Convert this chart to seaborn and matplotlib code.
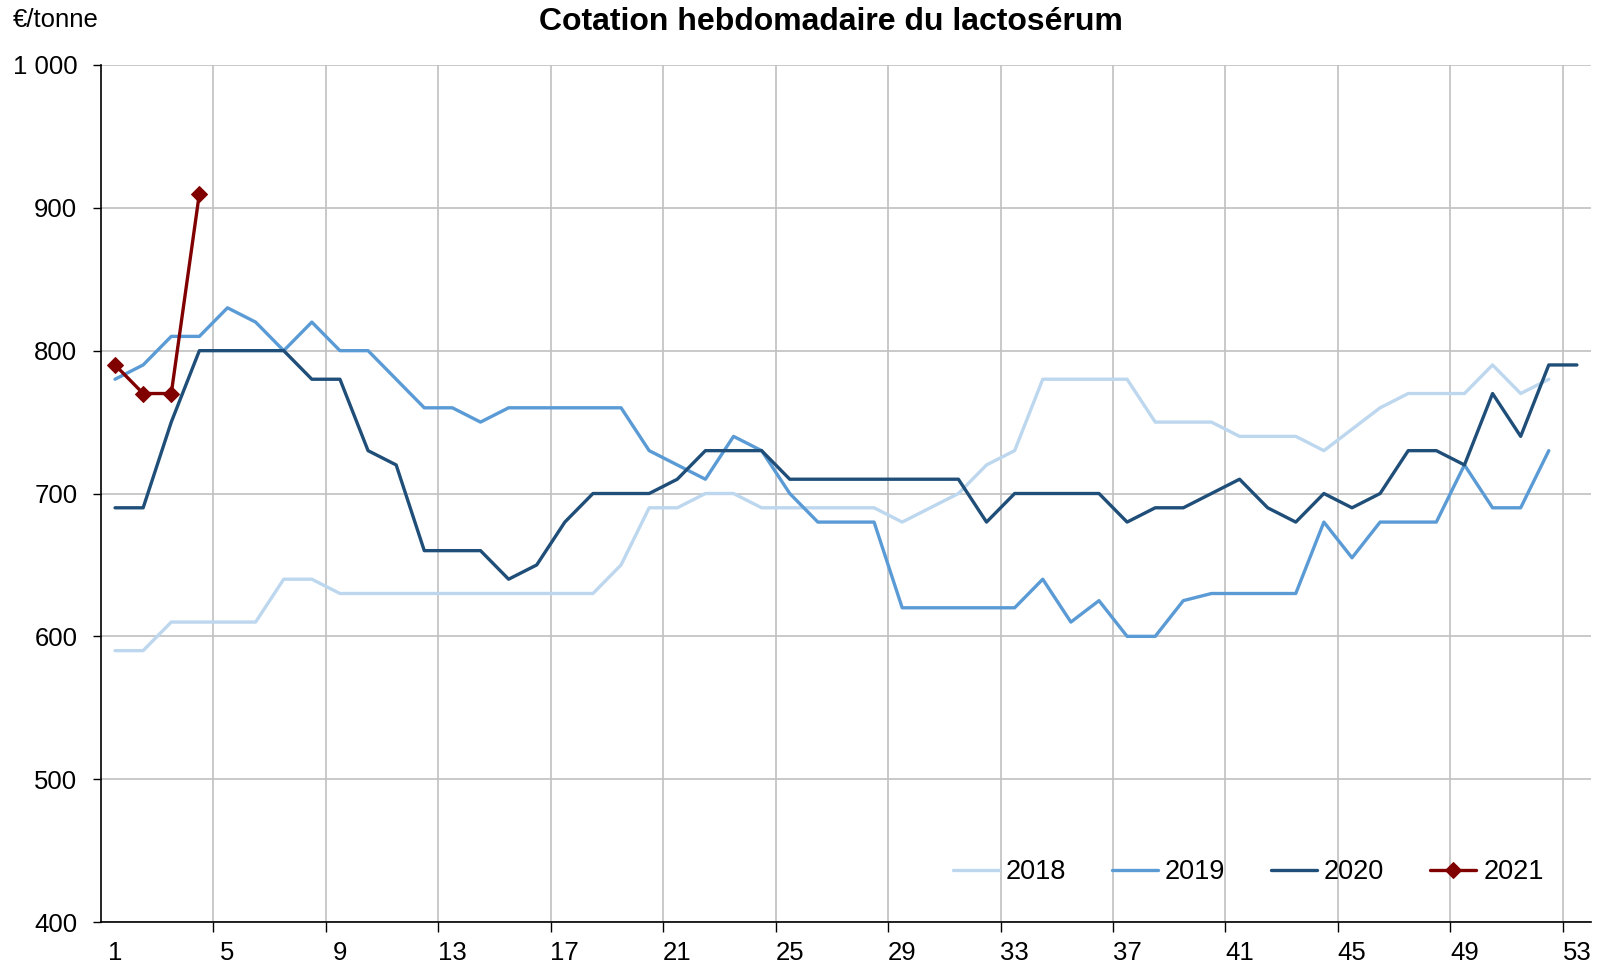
import numpy as np
import pandas as pd
import matplotlib.pyplot as plt
import seaborn as sns
from matplotlib.ticker import FixedLocator

# Cotation hebdomadaire du lactosérum (€/tonne), par semaine
weeks_2018 = list(range(1, 53))
val_2018 = [590, 590, 610, 610, 610, 610, 640, 640, 630, 630, 630, 630, 630, 630, 630, 630, 630, 630,
            650, 690, 690, 700, 700, 690, 690, 690, 690, 690, 680, 690, 700, 720, 730, 780, 780, 780,
            780, 750, 750, 750, 740, 740, 740, 730, 745, 760, 770, 770, 770, 790, 770, 780]

weeks_2019 = list(range(1, 53))
val_2019 = [780, 790, 810, 810, 830, 820, 800, 820, 800, 800, 780, 760, 760, 750, 760, 760, 760, 760,
            760, 730, 720, 710, 740, 730, 700, 680, 680, 680, 620, 620, 620, 620, 620, 640, 610, 625,
            600, 600, 625, 630, 630, 630, 630, 680, 655, 680, 680, 680, 720, 690, 690, 730]

weeks_2020 = list(range(1, 54))
val_2020 = [690, 690, 750, 800, 800, 800, 800, 780, 780, 730, 720, 660, 660, 660, 640, 650, 680, 700,
            700, 700, 710, 730, 730, 730, 710, 710, 710, 710, 710, 710, 710, 680, 700, 700, 700, 700,
            680, 690, 690, 700, 710, 690, 680, 700, 690, 700, 730, 730, 720, 770, 740, 790, 790]

weeks_2021 = [1, 2, 3, 4]
val_2021 = [790, 770, 770, 910]

years = ["2018", "2019", "2020", "2021"]
colors = ["#BDD7EE", "#5B9BD5", "#1F4E79", "#800000"]
series = [(weeks_2018, val_2018), (weeks_2019, val_2019), (weeks_2020, val_2020), (weeks_2021, val_2021)]

x_labels = list(range(1, 54, 4))
y_ticks = [400, 500, 600, 700, 800, 900, 1000]
y_labels = ["400", "500", "600", "700", "800", "900", "1 000"]

sns.set_style("white")
plt.rcParams["font.family"] = ["Liberation Sans", "DejaVu Sans"]
plt.rcParams["text.color"] = "black"
plt.rcParams["xtick.color"] = "black"
plt.rcParams["ytick.color"] = "black"

fig = plt.figure(figsize=(16.08, 9.67), dpi=100)
ax = fig.add_axes([0.0628, 0.0465, 0.9266, 0.8863])

for (wk, vals), yr, col in zip(series, years, colors):
    df = pd.DataFrame({"semaine": wk, "valeur": vals})
    if yr == "2021":
        sns.lineplot(data=df, x="semaine", y="valeur", ax=ax, color=col, lw=2.4,
                     marker="D", markersize=8, markeredgecolor=col, label=yr)
    else:
        sns.lineplot(data=df, x="semaine", y="valeur", ax=ax, color=col, lw=2.4, label=yr)

ax.set_xlim(0.5, 53.5)
ax.set_ylim(400, 1000)

ax.xaxis.set_major_locator(FixedLocator(x_labels))
ax.xaxis.set_minor_locator(FixedLocator(np.arange(4.5, 53, 4)))
ax.set_xticklabels([str(v) for v in x_labels])
ax.set_yticks(y_ticks)
ax.set_yticklabels(y_labels)
ax.tick_params(axis="x", which="major", length=0, labelsize=18.5, pad=14)
ax.tick_params(axis="x", which="minor", length=7, width=1, color="black", direction="out", bottom=True)
ax.tick_params(axis="y", length=6, width=1, color="black", direction="out", left=True,
               labelsize=18.5, pad=11)

ax.grid(False)
ax.xaxis.grid(True, which="minor", color="#C0C0C0", lw=1.2)
ax.yaxis.grid(True, which="major", color="#C0C0C0", lw=1.2)
ax.set_axisbelow(True)

for s in ["top", "right"]:
    ax.spines[s].set_visible(False)
for s in ["left", "bottom"]:
    ax.spines[s].set_color("black")
    ax.spines[s].set_linewidth(1.2)

ax.set_xlabel("")
ax.set_ylabel("")

ax.legend(loc="center", bbox_to_anchor=(0.77, 0.058), ncol=4, frameon=False, fontsize=19.5,
          handlelength=1.7, handletextpad=0.25, columnspacing=1.7)

fig.text(0.517, 0.977, "Cotation hebdomadaire du lactosérum", ha="center", va="center",
         fontsize=23, fontweight="bold")
fig.text(0.008, 0.979, "€/tonne", ha="left", va="center", fontsize=18.5)

fig.savefig("out.png", dpi=100)
